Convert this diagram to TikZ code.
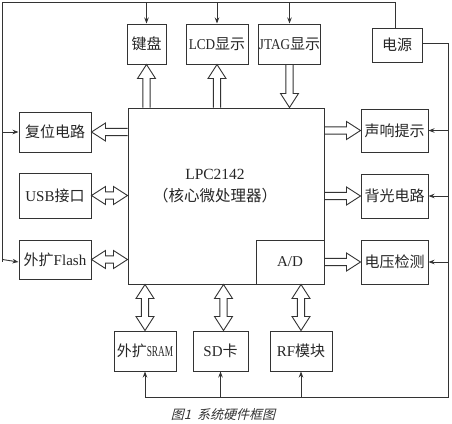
\documentclass[tikz,border=0pt]{standalone}
\usepackage{fontspec}
\setmainfont{Liberation Serif}
\newfontfamily\cjk{Noto Sans CJK SC}
\newfontfamily\cjkit[FakeSlant=0.25]{Noto Sans CJK SC}
\usetikzlibrary{calc,arrows.meta}
\newcommand\fatw{3.6pt}
\newcommand\fath{9pt}
\newcommand\fatL{14pt}
\newcommand\fatone[2]{%
  \coordinate (fb) at ($(#2)!\fatL!(#1)$);
  \draw[fat] ($(#1)!\fatw!90:(#2)$) -- ($(fb)!\fatw!90:(#2)$) -- ($(fb)!\fath!90:(#2)$) -- (#2)
    -- ($(fb)!\fath!-90:(#2)$) -- ($(fb)!\fatw!-90:(#2)$) -- ($(#1)!\fatw!-90:(#2)$);
}
\newcommand\fattwo[2]{%
  \coordinate (fa) at ($(#1)!\fatL!(#2)$);
  \coordinate (fb) at ($(#2)!\fatL!(#1)$);
  \draw[fat] (#1) -- ($(fa)!\fath!90:(#2)$) -- ($(fa)!\fatw!90:(#2)$) -- ($(fb)!\fatw!90:(#2)$)
    -- ($(fb)!\fath!90:(#2)$) -- (#2) -- ($(fb)!\fath!-90:(#2)$) -- ($(fb)!\fatw!-90:(#2)$)
    -- ($(fa)!\fatw!-90:(#2)$) -- ($(fa)!\fath!-90:(#2)$) -- cycle;
}
\newcommand\lat[1]{\scalebox{0.88}[1]{#1}}
\begin{document}
\begin{tikzpicture}[x=1pt,y=-1pt,
  box/.style={draw=black!80,line width=1pt,inner sep=0pt,text=black!85,
    font=\fontsize{15}{17}\selectfont},
  fat/.style={draw=black!80,line width=0.9pt,line join=miter},
  wire/.style={draw=black!80,line width=0.9pt},
  tip/.style={wire,-{Stealth[length=6pt,width=4.5pt]}}]
\useasboundingbox[fill=white] (0,0) rectangle (452,423);
% boxes
\node[box,minimum width=39pt,minimum height=40pt] (kb) at (146.5,44) {\cjk 键盘};
\node[box,minimum width=62pt,minimum height=40pt] (lcd) at (217,44) {\lat{LCD}{\cjk 显示}};
\node[box,minimum width=61pt,minimum height=40pt] (jtag) at (289.5,44) {\lat{JTAG}{\cjk 显示}};
\node[box,minimum width=50pt,minimum height=34pt] (power) at (397,45) {\cjk 电源};
\node[box,minimum width=196pt,minimum height=176pt] (main) at (226,196) {};
\node[box,draw=none,align=center,font=\fontsize{15.5}{22}\selectfont] (maintxt) at (215,186) {LPC2142\\{\cjk （核心微处理器）}};
\node[box,minimum width=68pt,minimum height=44pt] (ad) at (290,262) {A/D};
\node[box,minimum width=72pt,minimum height=40pt] (reset) at (55,132) {\cjk 复位电路};
\node[box,minimum width=72pt,minimum height=45pt] (usb) at (55,195.5) {USB\cjk 接口};
\node[box,minimum width=72pt,minimum height=39pt] (flash) at (55,259.5) {{\cjk 外扩}Flash};
\node[box,minimum width=67pt,minimum height=43pt] (sound) at (394.5,130.5) {\cjk 声响提示};
\node[box,minimum width=67pt,minimum height=44pt] (back) at (394.5,196) {\cjk 背光电路};
\node[box,minimum width=67pt,minimum height=44pt] (volt) at (394.5,262) {\cjk 电压检测};
\node[box,minimum width=62pt,minimum height=40pt] (sram) at (145,351) {{\cjk 外扩}\scalebox{0.62}[1]{SRAM}};
\node[box,minimum width=55pt,minimum height=40pt] (sd) at (220.5,351) {SD\cjk 卡};
\node[box,minimum width=62pt,minimum height=40pt] (rf) at (301,351) {RF\cjk 模块};
\node[font=\fontsize{13}{15}\selectfont\cjkit,text=black!80] (cap) at (223,415) {图1\ \ 系统硬件框图};
% power wiring
\coordinate (tl) at (2.5,2.5);
\coordinate (tr) at (395,2.5);
\coordinate (lb) at (2.5,262);
\coordinate (rt) at (448,43);
\coordinate (rb) at (448,397);
\coordinate (bl) at (145,397);
\draw[wire] (power.north -| tr) -- (tr) -- (tl) -- (lb);
\draw[tip] (kb.north |- tl) -- (kb.north);
\draw[tip] (lcd.north |- tl) -- (lcd.north);
\draw[tip] (jtag.north |- tl) -- (jtag.north);
\draw[tip] (reset.west -| tl) -- (reset.west);
\draw[tip] (flash.west -| tl |- lb) -- (flash.west |- lb);
\draw[wire] (power.east |- rt) -- (rt) -- (rb) -- (bl);
\draw[tip] (sound.east -| rt) -- (sound.east);
\draw[tip] (back.east -| rt) -- (back.east);
\draw[tip] (volt.east -| rt) -- (volt.east);
\draw[tip] (sram.south |- rb) -- (sram.south);
\draw[tip] (sd.south |- rb) -- (sd.south);
\draw[tip] (rf.south |- rb) -- (rf.south);
% fat arrows
\coordinate (a1) at (main.north -| kb.south);
\coordinate (a2) at (main.north -| lcd.south);
\coordinate (a3) at (main.north -| jtag.south);
\coordinate (a4) at (main.west |- reset.east);
\coordinate (a5) at (main.west |- usb.east);
\coordinate (a6) at (main.west |- flash.east);
\coordinate (a7) at (main.east |- sound.west);
\coordinate (a8) at (main.east |- back.west);
\coordinate (a9) at (ad.east |- volt.west);
\coordinate (b1) at (main.south -| sram.north);
\coordinate (b2) at ([xshift=3pt]main.south -| sd.north);
\coordinate (b3) at (main.south -| rf.north);
\fatone{a1}{kb.south}
\fatone{a2}{lcd.south}
\fatone{jtag.south}{a3}
\fatone{a4}{reset.east}
\fattwo{a5}{usb.east}
\fattwo{a6}{flash.east}
\fatone{a7}{sound.west}
\fatone{a8}{back.west}
\fatone{a9}{volt.west}
\fattwo{b1}{sram.north}
\fattwo{b2}{b2 |- sd.north}
\fattwo{b3}{rf.north}
\end{tikzpicture}
\end{document}
